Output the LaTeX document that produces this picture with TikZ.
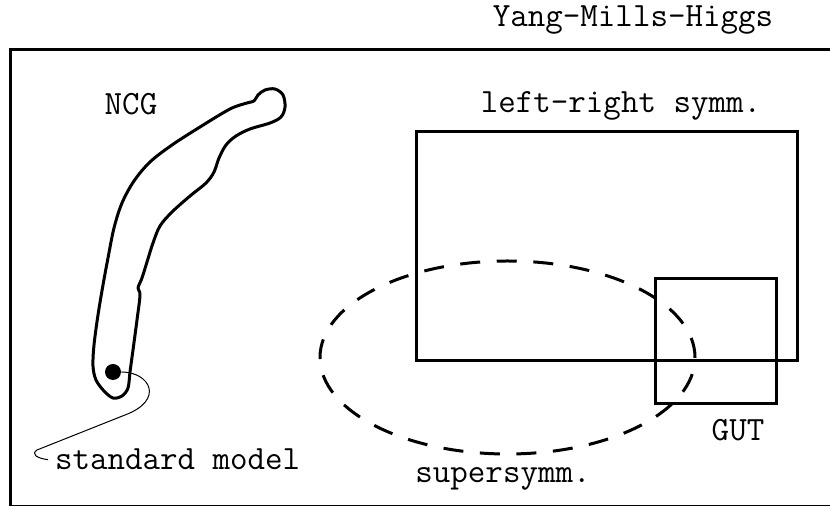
\documentclass[tikz,border=0pt]{standalone}
\usepackage{tikz}
\usetikzlibrary{positioning, calc}

\begin{document}
\begin{tikzpicture}[x=0.5pt, y=-0.5pt,
  lbl/.style={font=\ttfamily\fontsize{17}{20}\selectfont, anchor=base},
  bold/.style={line width=1.5pt}]
  \useasboundingbox (0,0) rectangle (830,506);
  \clip (0,0) rectangle (830,506);
  % Outer frame
  \draw[bold] (10,50) rectangle (860,507);
  \node[lbl] (ymh) at (633,27) {Yang-Mills-Higgs};
  % NCG region
  \draw[bold, line join=round] plot[smooth cycle, tension=0.55] coordinates {
    (113,398) (104,391) (96,380) (93,366) (94,345) (98,315) (103,285)
    (108,258) (114,228) (122,203) (134,181) (150,162) (172,145) (200,127)
    (230,109) (247,103) (254,101) (258,95) (265,90) (275,89) (283,95)
    (285,107) (281,117) (270,123) (250,129) (236,136) (226,145) (219,158)
    (214,172) (206,183) (190,196) (172,212) (160,226) (153,243) (147,262)
    (142,278) (138,288) (140,295) (137,320) (133,350) (130,372) (128,388)
    (122,396)};
  \node[lbl] (ncg) at (131,115) {NCG};
  % Standard model
  \node[circle, fill, inner sep=0pt, minimum size=8pt] (smdot) at (113,372) {};
  \node[lbl, anchor=base west] (sm) at (48,470) {standard model};
  \draw[line width=0.5pt] (smdot.east) .. controls (150,372) and (165,400) .. (125,415)
    -- (37,450) .. controls (31,454) and (36,458) .. (sm.west);
  % Left-right symmetric and GUT boxes
  \draw[bold] (416,132) rectangle (797,361);
  \node[lbl] (lr) at (621,113) {left-right symm.};
  \draw[bold] (655,279) rectangle (776,404);
  \node[lbl] (gut) at (738,441) {GUT};
  % Supersymmetry
  \draw[bold, dash pattern=on 10pt off 8.3pt] (507.5,357.5) ellipse (93.75pt and 48.25pt);
  \node[lbl] (susy) at (503,483) {supersymm.};
\end{tikzpicture}
\end{document}
